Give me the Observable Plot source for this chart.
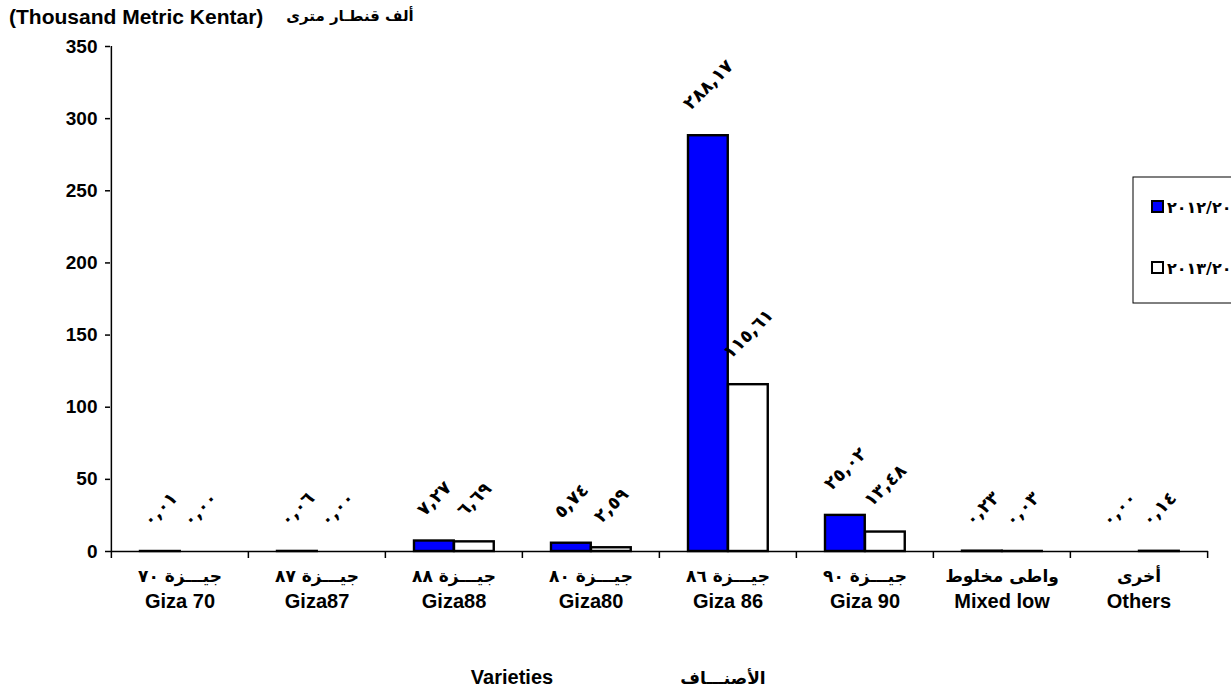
<!DOCTYPE html>
<html>
<head>
<meta charset="utf-8">
<script src="https://cdn.jsdelivr.net/npm/d3@7"></script>
<script src="https://cdn.jsdelivr.net/npm/@observablehq/plot@0.6"></script>
<style>
  html, body { margin: 0; padding: 0; background: #fff; }
  #chart svg { display: block; }
</style>
</head>
<body>
<div id="chart"></div>
<script>
// ---- data ----
const categories = ["Giza 70", "Giza87", "Giza88", "Giza80", "Giza 86", "Giza 90", "Mixed low", "Others"];
const arabicCategories = ["جيـــزة ٧٠", "جيـــزة ٨٧", "جيـــزة ٨٨", "جيـــزة ٨٠", "جيـــزة ٨٦", "جيـــزة ٩٠", "واطى مخلوط", "أخرى"];
const season1 = [0.01, 0.06, 7.27, 5.74, 288.17, 25.02, 0.23, 0.00];
const season2 = [0.00, 0.00, 6.69, 2.59, 115.61, 13.48, 0.03, 0.14];
const seasonNames = ["٢٠١٢/٢٠١٣", "٢٠١٣/٢٠١٤"];
const seasonColors = ["#0000ff", "#ffffff"];
const yTicks = [0, 50, 100, 150, 200, 250, 300, 350];
const yTitleEn = "(Thousand Metric Kentar)";
const yTitleAr = "ألف قنطـار مترى";
const xTitleEn = "Varieties";
const xTitleAr = "الأصنـــاف";

// ---- helpers ----
const arDigits = "٠١٢٣٤٥٦٧٨٩";
const toArabic = (s) => String(s).replace(/\d/g, (d) => arDigits[+d]);
const fmt = (v) => toArabic(v.toFixed(2).replace(".", ","));

const data1 = categories.map((c, i) => ({cat: c, v: season1[i]}));
const data2 = categories.map((c, i) => ({cat: c, v: season2[i]}));
const catRows = categories.map((c, i) => ({cat: c, ar: arabicCategories[i]}));

const W = 1231, H = 688;
const mL = 110, mR = 23, mT = 46, mB = 137;
const step = (W - mL - mR) / categories.length;
const barW = 40, lead = 29;
const font = "Liberation Sans, Arial, DejaVu Sans, sans-serif";
const arFont = "DejaVu Sans, sans-serif";

// rotated value labels: centred over the bar, lifted so that the lower end sits above the bar top
function valueLabels(data, dx) {
  const lengths = [4, 5, 6];
  return lengths.map((n) => Plot.text(data.filter((d) => fmt(d.v).length === n), {
    x: "cat", y: "v", text: (d) => fmt(d.v), rotate: -45,
    dx, dy: -(25 + 4.3 * n),
    fontSize: 18, fontWeight: "bold", fontFamily: arFont
  }));
}

const chart = Plot.plot({
  width: W, height: H,
  marginLeft: mL, marginRight: mR, marginTop: mT, marginBottom: mB,
  style: {fontFamily: font, fontWeight: "bold", background: "#fff", color: "#000", overflow: "visible"},
  x: {type: "band", domain: categories, padding: 0, axis: null},
  y: {domain: [0, 350], axis: null},
  marks: [
    // bars
    Plot.barY(data1, {x: "cat", y: "v", fill: seasonColors[0], stroke: "#000", strokeWidth: 2.4,
      insetLeft: lead, insetRight: step - lead - barW}),
    Plot.barY(data2, {x: "cat", y: "v", fill: seasonColors[1], stroke: "#000", strokeWidth: 2.4,
      insetLeft: lead + barW, insetRight: step - lead - 2 * barW}),
    // axis lines
    Plot.ruleY([0], {stroke: "#000", strokeWidth: 1.5}),
    Plot.ruleX([categories[0]], {dx: -step / 2, y1: 0, y2: 350, stroke: "#000", strokeWidth: 1.5}),
    // x ticks at category boundaries
    Plot.ruleX(categories, {x: (d) => d, dx: -step / 2, y1: 0, y2: 0, insetBottom: -7, stroke: "#000", strokeWidth: 1.5}),
    Plot.ruleX([categories[categories.length - 1]], {x: (d) => d, dx: step / 2, y1: 0, y2: 0, insetBottom: -7, stroke: "#000", strokeWidth: 1.5}),
    // y axis ticks and labels
    Plot.axisY({ticks: yTicks, tickSize: 5, tickPadding: 8, fontSize: 19, fontWeight: "bold", label: null, stroke: "#000", strokeWidth: 1.5}),
    // value labels
    ...valueLabels(data1, lead + barW / 2 - step / 2),
    ...valueLabels(data2, lead + barW * 1.5 - step / 2),
    // category labels
    Plot.text(catRows, {x: "cat", text: "ar", frameAnchor: "bottom", dy: 30, fontSize: 17, fontWeight: "bold",
      fontFamily: arFont}),
    Plot.text(catRows, {x: "cat", text: "cat", frameAnchor: "bottom", dy: 56, fontSize: 20, fontWeight: "bold"})
  ]
});

const svg = d3.select(chart);
// axis titles
svg.append("text").attr("x", 9).attr("y", 24).attr("text-anchor", "start").attr("font-size", 21)
  .attr("font-weight", "bold").attr("font-family", font).text(yTitleEn);
svg.append("text").attr("x", 350).attr("y", 21).attr("text-anchor", "middle").attr("font-size", 15)
  .attr("font-weight", "bold").attr("font-family", arFont).text(yTitleAr);
svg.append("text").attr("x", 512).attr("y", 684).attr("text-anchor", "middle").attr("font-size", 20)
  .attr("font-weight", "bold").attr("font-family", font).text(xTitleEn);
svg.append("text").attr("x", 723).attr("y", 684).attr("text-anchor", "middle").attr("font-size", 17)
  .attr("font-weight", "bold").attr("font-family", arFont).text(xTitleAr);

// legend (box runs past the right edge, as in the reference)
const lg = svg.append("g");
lg.append("rect").attr("x", 1133).attr("y", 177).attr("width", 130).attr("height", 126)
  .attr("fill", "#fff").attr("stroke", "#000").attr("stroke-width", 1);
seasonNames.forEach((name, i) => {
  const yy = 207 + i * 61;
  lg.append("rect").attr("x", 1152).attr("y", yy - 6).attr("width", 11).attr("height", 11)
    .attr("fill", seasonColors[i]).attr("stroke", "#000").attr("stroke-width", 2);
  lg.append("text").attr("x", 1167).attr("y", yy + 6).attr("text-anchor", "start").attr("font-size", 16)
    .attr("font-weight", "bold").attr("font-family", arFont).text(name);
});
svg.style("overflow", "hidden");

document.getElementById("chart").appendChild(chart);
</script>
</body>
</html>
